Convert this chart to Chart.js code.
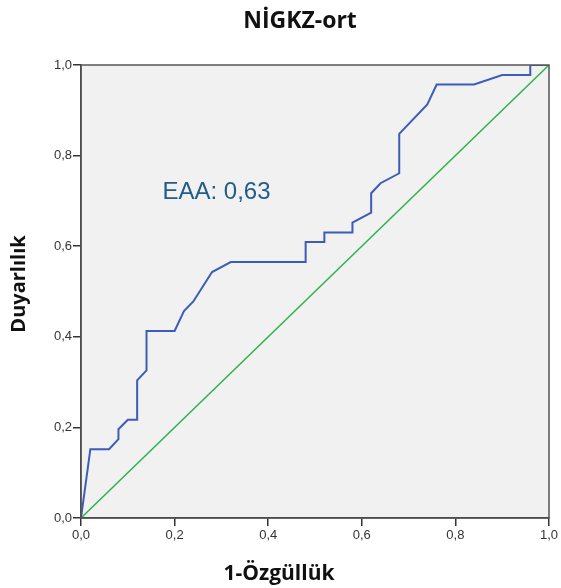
<!DOCTYPE html>
<html>
<head>
<meta charset="utf-8">
<script src="https://cdn.jsdelivr.net/npm/chart.js@4/dist/chart.umd.min.js"></script>
<style>
  html, body { margin: 0; padding: 0; background: #fff; }
  #wrap { width: 561px; height: 588px; }
</style>
</head>
<body>
<div id="wrap"><canvas id="roc"></canvas></div>
<script>
// --- Data ---
const fprValues = [0, 0.02, 0.06, 0.08, 0.08, 0.10, 0.12, 0.12, 0.14, 0.14, 0.20, 0.22, 0.24, 0.28, 0.32, 0.48, 0.48, 0.52, 0.52, 0.58, 0.58, 0.62, 0.62, 0.64, 0.68, 0.68, 0.74, 0.76, 0.84, 0.90, 0.96, 0.96, 1.00];
const tprValues = [0, 0.152, 0.152, 0.174, 0.196, 0.217, 0.217, 0.304, 0.326, 0.413, 0.413, 0.457, 0.478, 0.543, 0.565, 0.565, 0.609, 0.609, 0.630, 0.630, 0.652, 0.674, 0.717, 0.739, 0.761, 0.848, 0.913, 0.957, 0.957, 0.978, 0.978, 1.0, 1.0];
const refLineX = [0, 1];
const refLineY = [0, 1];
const tickValues = [0, 0.2, 0.4, 0.6, 0.8, 1.0];

const chartTitle = "NİGKZ-ort";
const xTitle = "1-Özgüllük";
const yTitle = "Duyarlılık";
const aucLabel = "EAA: 0,63";

const boldFont = "'Open Sans', sans-serif";

// background, frame, titles and AUC note
const frame = {
    id: "frame",
    beforeDraw(chart) {
        const { ctx, chartArea: a } = chart;
        ctx.save();
        ctx.fillStyle = "#f1f1f1";
        ctx.fillRect(a.left, a.top, a.right - a.left, a.bottom - a.top);
        ctx.restore();
    },
    afterDraw(chart) {
        const { ctx, chartArea: a, scales } = chart;
        ctx.save();
        ctx.strokeStyle = "#555";
        ctx.lineWidth = 1.5;
        ctx.strokeRect(a.left, a.top, a.right - a.left, a.bottom - a.top);

        // title (sits a bit right of the canvas centre in the original)
        ctx.fillStyle = "#111";
        ctx.font = "bold 23px " + boldFont;
        ctx.textAlign = "center";
        ctx.textBaseline = "middle";
        ctx.fillText(chartTitle, 300, 21);

        // x axis title, centred on the canvas
        ctx.font = "bold 21px " + boldFont;
        ctx.fillText(xTitle, 279, 574);

        // y axis title, rotated
        ctx.save();
        ctx.translate(19, 284);
        ctx.rotate(-Math.PI / 2);
        ctx.font = "bold 20px " + boldFont;
        ctx.fillText(yTitle, 0, 0);
        ctx.restore();

        // AUC annotation placed in data coordinates
        ctx.fillStyle = "#225d88";
        ctx.font = "24px 'Liberation Sans', Arial, sans-serif";
        ctx.textAlign = "left";
        ctx.fillText(aucLabel, scales.x.getPixelForValue(0.174), scales.y.getPixelForValue(0.719));
        ctx.restore();
    }
};

const fmt = v => v.toFixed(1).replace(".", ",");

new Chart(document.getElementById("roc"), {
    type: "scatter",
    data: {
        datasets: [
            {
                data: fprValues.map((x, i) => ({ x: x, y: tprValues[i] })),
                showLine: true,
                borderColor: "#3d5cb8",
                borderWidth: 2,
                pointRadius: 0,
                tension: 0
            },
            {
                data: refLineX.map((x, i) => ({ x: x, y: refLineY[i] })),
                showLine: true,
                borderColor: "#2eb34a",
                borderWidth: 1.5,
                pointRadius: 0
            }
        ]
    },
    options: {
        responsive: true,
        maintainAspectRatio: false,
        animation: false,
        layout: { padding: { left: 0, right: 12, top: 65, bottom: 0 } },
        plugins: {
            legend: { display: false },
            tooltip: { enabled: false },
            title: { display: false }
        },
        scales: {
            x: {
                type: "linear",
                min: 0, max: 1,
                afterBuildTicks: s => { s.ticks = tickValues.map(v => ({ value: v })); },
                afterFit: s => { s.height = 70; },
                ticks: {
                    callback: v => fmt(v),
                    color: "#333",
                    font: { family: "'Liberation Sans', Arial, sans-serif", size: 13 },
                    padding: 2,
                    maxRotation: 0
                },
                grid: { drawOnChartArea: false, tickLength: 8, color: "#333", lineWidth: 1.5 },
                border: { color: "#333", width: 1.5 }
            },
            y: {
                type: "linear",
                min: 0, max: 1,
                afterBuildTicks: s => { s.ticks = tickValues.map(v => ({ value: v })); },
                afterFit: s => { s.width = 81; },
                ticks: {
                    callback: v => fmt(v),
                    color: "#333",
                    font: { family: "'Liberation Sans', Arial, sans-serif", size: 13 },
                    padding: 1
                },
                grid: { drawOnChartArea: false, tickLength: 8, color: "#333", lineWidth: 1.5 },
                border: { color: "#333", width: 1.5 }
            }
        }
    },
    plugins: [frame]
});
</script>
</body>
</html>
